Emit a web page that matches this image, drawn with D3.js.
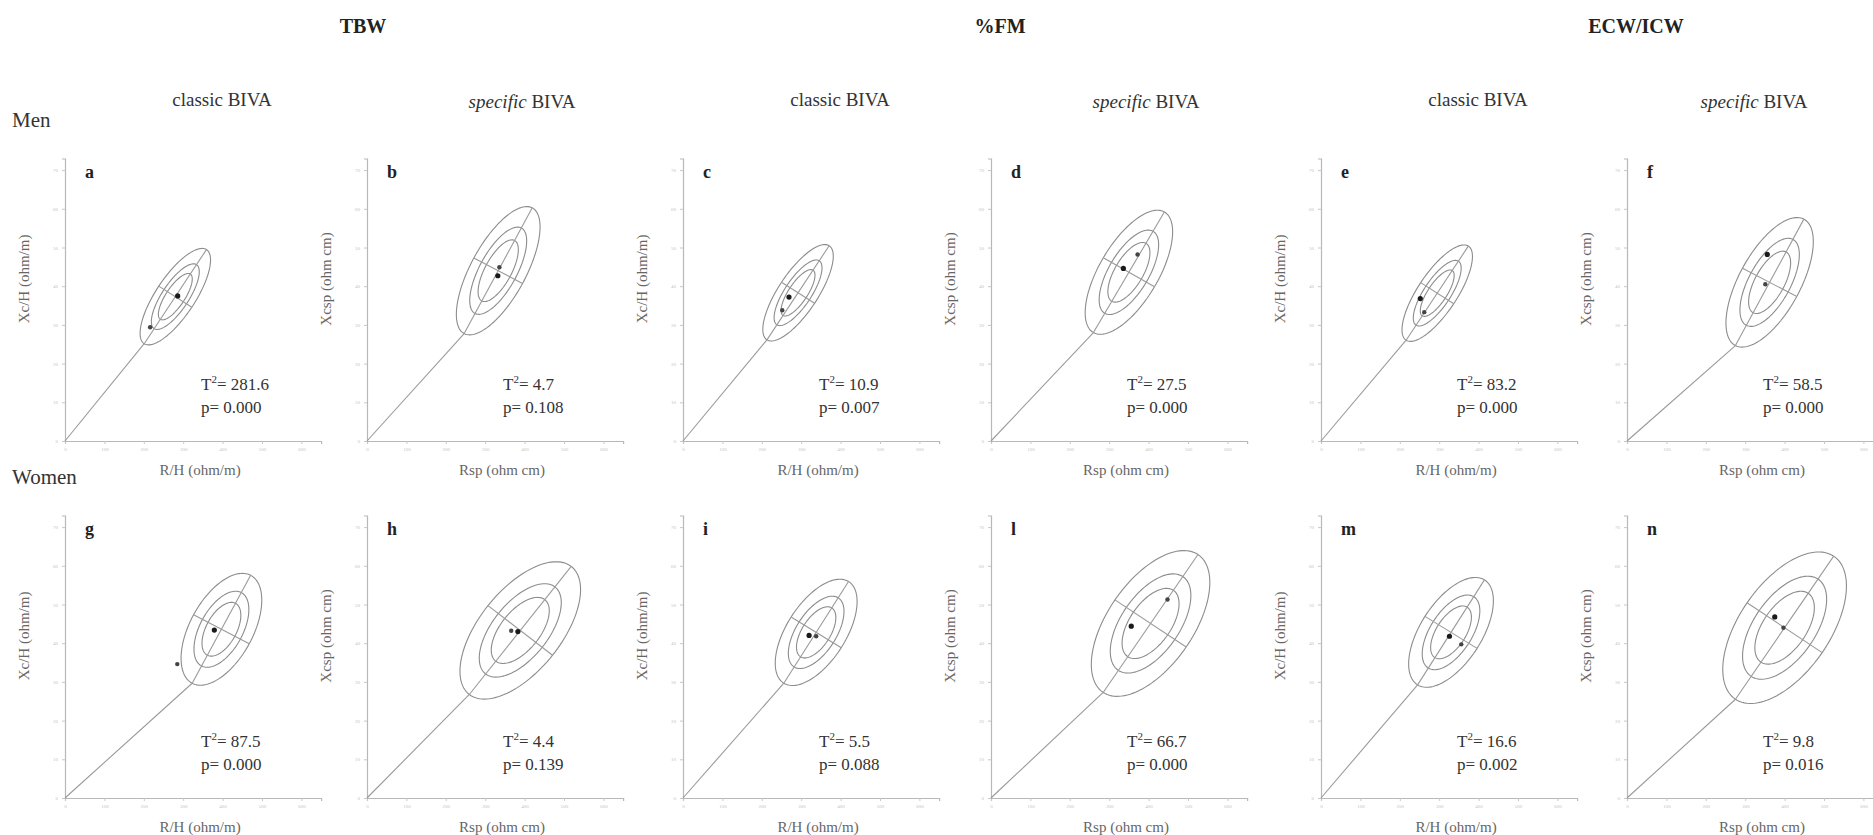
<!DOCTYPE html>
<html>
<head>
<meta charset="utf-8">
<script src="https://cdn.jsdelivr.net/npm/d3@7"></script>
<style>
  body { margin: 0; background: #fff; }
  svg { display: block; }
  svg text { font-family: "Liberation Serif", "DejaVu Serif", serif; }
</style>
</head>
<body>
<div id="viz"></div>
<script>
// panel letters, read row by row (Men then Women)
const panelLetters = ['a', 'b', 'c', 'd', 'e', 'f', 'g', 'h', 'i', 'l', 'm', 'n'];
const variables = ['TBW', '%FM', 'ECW/ICW'];
const sexes = ['Men', 'Women'];

// tolerance ellipse centre (R, Xc) and 95% semi axes (in tick steps) + angle
const ellR = [280, 333, 292, 350, 295, 362, 397, 389, 338, 405, 330, 400];
const ellXc = [37.3, 44.0, 38.3, 43.6, 38.2, 41.0, 43.6, 43.3, 42.8, 45.1, 42.8, 44.0];
const ellMajor = [1.45, 1.84, 1.45, 1.8, 1.45, 1.85, 1.58, 2.1, 1.55, 2.15, 1.6, 2.23];
const ellMinor = [0.5, 0.7, 0.5, 0.75, 0.5, 0.78, 0.8, 1.04, 0.75, 1.09, 0.78, 1.15];
const ellAngle = [57, 62, 57, 60, 57, 62, 62, 52, 58, 56, 58, 56];

// the two group means
const meanR1 = [286, 332, 269, 336, 252, 356, 379, 383, 320, 356, 326, 375];
const meanXc1 = [37.5, 42.7, 37.2, 44.6, 36.8, 48.2, 43.4, 43.0, 42.0, 44.4, 41.8, 46.8];
const meanR2 = [216, 336, 252, 372, 262, 351, 285, 366, 338, 448, 356, 397];
const meanXc2 = [29.4, 44.9, 33.8, 48.2, 33.3, 40.5, 34.6, 43.2, 41.8, 51.3, 39.7, 44.0];

const t2Values = ['281.6', '4.7', '10.9', '27.5', '83.2', '58.5', '87.5', '4.4', '5.5', '66.7', '16.6', '9.8'];
const pValues = ['0.000', '0.108', '0.007', '0.000', '0.000', '0.000', '0.000', '0.139', '0.088', '0.000', '0.002', '0.016'];

const xTicks = [0, 100, 200, 300, 400, 500, 600];
const yTicks = [0, 10, 20, 30, 40, 50, 60, 70];
const levels = [0.481, 0.680, 1]; // 50%, 75%, 95% relative to 95%

const width = 1873, height = 835;
const colX = [65, 367, 683, 991, 1321, 1627];
const rowY = [441, 798];
const stepX = 39.4, stepY = 38.7;

const svg = d3.select('#viz')
    .append('svg')
    .attr('width', width)
    .attr('height', height);

// headers
variables.forEach((v, i) => {
    svg.append('text')
        .attr('x', [363, 1000, 1636][i])
        .attr('y', 33)
        .attr('text-anchor', 'middle')
        .attr('font-size', 20)
        .attr('font-weight', 'bold')
        .attr('fill', '#222')
        .text(v);
});

colX.forEach((ox, c) => {
    let t = svg.append('text')
        .attr('x', ox + [157, 155, 157, 155, 157, 127][c])
        .attr('y', c % 2 === 0 ? 106 : 108)
        .attr('text-anchor', 'middle')
        .attr('font-size', 19)
        .attr('fill', '#333');
    if (c % 2 === 0) {
        t.text('classic BIVA');
    } else {
        t.append('tspan').attr('font-style', 'italic').text('specific');
        t.append('tspan').text(' BIVA');
    }
});

sexes.forEach((s, i) => {
    svg.append('text')
        .attr('x', 12)
        .attr('y', [127, 484][i])
        .attr('font-size', 21)
        .attr('fill', '#333')
        .text(s);
});

const line = d3.line().curve(d3.curveLinearClosed);

panelLetters.forEach((letter, i) => {
    const col = i % 6, row = Math.floor(i / 6);
    const ox = colX[col], oy = rowY[row];
    const specific = col % 2 === 1;

    let x = d3.scaleLinear().domain([0, 650]).range([ox, ox + 6.5 * stepX]);
    let y = d3.scaleLinear().domain([0, 73]).range([oy, oy - 7.3 * stepY]);

    let g = svg.append('g');

    let xAxis = g.append('g')
        .attr('transform', `translate(0,${oy})`)
        .call(d3.axisBottom(x).tickValues(xTicks).tickSize(3).tickPadding(3));
    let yAxis = g.append('g')
        .attr('transform', `translate(${ox},0)`)
        .call(d3.axisLeft(y).tickValues(yTicks).tickSize(3).tickPadding(4));
    [xAxis, yAxis].forEach(a => {
        a.select('.domain').attr('stroke', '#b8b8b8').attr('stroke-width', 1.2);
        a.selectAll('.tick line').attr('stroke', '#c8c8c8');
        a.selectAll('.tick text')
            .attr('fill', '#c4c4c4')
            .attr('font-size', 5)
            .attr('font-family', 'Liberation Serif');
    });

    // axis titles
    g.append('text')
        .attr('x', ox + 135)
        .attr('y', oy + 34)
        .attr('text-anchor', 'middle')
        .attr('font-size', 15)
        .attr('fill', '#666')
        .text(specific ? 'Rsp (ohm cm)' : 'R/H (ohm/m)');
    g.append('text')
        .attr('transform', `translate(${ox - 36},${oy - 162}) rotate(-90)`)
        .attr('text-anchor', 'middle')
        .attr('font-size', 15)
        .attr('fill', '#666')
        .text(specific ? 'Xcsp (ohm cm)' : 'Xc/H (ohm/m)');

    g.append('text')
        .attr('x', ox + 20)
        .attr('y', oy - 263)
        .attr('font-size', 18)
        .attr('font-weight', 'bold')
        .attr('fill', '#222')
        .text(letter);

    // ellipse geometry, in tick steps (100 ohm on R, 10 ohm on Xc)
    const th = ellAngle[i] * Math.PI / 180;
    const toData = (u, v) => [
        ellR[i] + 100 * (u * Math.cos(th) - v * Math.sin(th)),
        ellXc[i] + 10 * (u * Math.sin(th) + v * Math.cos(th))
    ];
    const toPx = p => [x(p[0]), y(p[1])];

    levels.forEach(k => {
        const pts = d3.range(0, 120).map(j => {
            const t = j / 120 * 2 * Math.PI;
            return toPx(toData(k * ellMajor[i] * Math.cos(t), k * ellMinor[i] * Math.sin(t)));
        });
        g.append('path')
            .attr('d', line(pts))
            .attr('fill', 'none')
            .attr('stroke', '#8c8c8c')
            .attr('stroke-width', 1.1);
    });

    const low = toData(-ellMajor[i], 0), high = toData(ellMajor[i], 0);
    const left = toData(0, ellMinor[i]), right = toData(0, -ellMinor[i]);
    [[[0, 0], low], [low, high], [left, right]].forEach(seg => {
        g.append('line')
            .attr('x1', x(seg[0][0])).attr('y1', y(seg[0][1]))
            .attr('x2', x(seg[1][0])).attr('y2', y(seg[1][1]))
            .attr('stroke', '#9a9a9a')
            .attr('stroke-width', 1.1);
    });

    g.append('circle')
        .attr('cx', x(meanR2[i])).attr('cy', y(meanXc2[i]))
        .attr('r', 2.2).attr('fill', '#444');
    g.append('circle')
        .attr('cx', x(meanR1[i])).attr('cy', y(meanXc1[i]))
        .attr('r', 2.6).attr('fill', '#1a1a1a');

    let t2 = g.append('text')
        .attr('x', ox + 136)
        .attr('y', oy - 51)
        .attr('font-size', 17)
        .attr('fill', '#333');
    t2.append('tspan').text('T');
    t2.append('tspan').attr('font-size', 11).attr('dy', -7).text('2');
    t2.append('tspan').attr('dy', 7).text('= ' + t2Values[i]);
    g.append('text')
        .attr('x', ox + 136)
        .attr('y', oy - 28)
        .attr('font-size', 17)
        .attr('fill', '#333')
        .text('p= ' + pValues[i]);
});
</script>
</body>
</html>
